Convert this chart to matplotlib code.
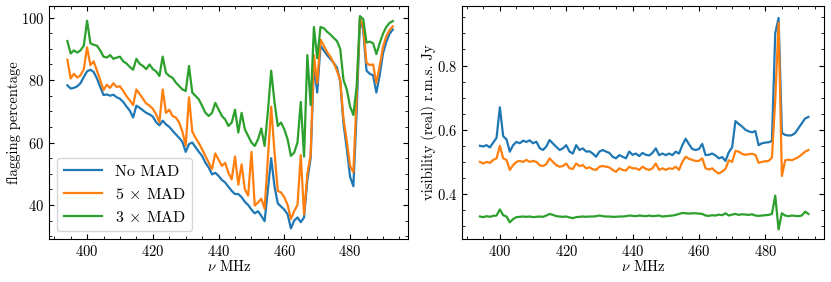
import matplotlib
matplotlib.use("Agg")
import matplotlib.pyplot as plt
import numpy as np
from matplotlib.ticker import MultipleLocator

plt.rcParams["font.family"] = "serif"
plt.rcParams["font.serif"] = ["cmr10"]
plt.rcParams["mathtext.fontset"] = "cm"
plt.rcParams["axes.formatter.use_mathtext"] = True
plt.rcParams["font.size"] = 10.5

# frequency channels (MHz), 1 MHz steps
FREQ = np.arange(394, 494)

# flagging percentage per channel
FLAG_NO_MAD = [
    78.3, 77.3, 77.5, 78.0, 79.0, 81.0, 82.8, 83.3, 82.6, 80.5,
    77.8, 75.2, 75.4, 75.0, 75.3, 74.5, 74.0, 73.0, 71.5, 70.2,
    68.0, 71.8, 71.1, 70.3, 69.5, 69.0, 68.3, 66.5, 65.5, 67.0,
    65.8, 65.0, 63.8, 62.6, 61.5, 60.2, 57.0, 59.5, 60.0, 58.5,
    57.0, 55.7, 53.5, 52.0, 49.8, 50.3, 49.3, 48.0, 47.2, 45.8,
    44.5, 43.5, 43.5, 42.5, 41.0, 40.0, 38.5, 37.3, 38.0, 36.5,
    34.8, 45.0, 55.0, 46.0, 40.5, 39.5, 38.5, 37.0, 32.5, 35.0,
    36.0, 34.5, 36.0, 48.0, 55.0, 85.0, 76.0, 91.0, 89.5, 88.0,
    86.8, 85.5, 84.0, 79.5, 66.0, 58.0, 49.0, 46.0, 70.0, 99.5,
    96.0, 83.0, 82.0, 81.5, 76.0, 81.5, 88.5, 92.2, 94.8, 96.2,
]
FLAG_5_MAD = [
    86.5, 80.5, 82.0, 80.8, 81.5, 83.5, 90.5, 84.8, 86.0, 83.0,
    80.0, 76.8, 78.5, 77.5, 79.0, 77.8, 78.0, 76.5, 74.8, 73.5,
    72.0, 77.0, 75.5, 74.0, 72.5, 71.8, 70.8, 69.0, 66.5, 77.0,
    69.5, 70.5, 68.5, 68.0, 66.4, 63.5, 59.0, 74.5, 63.5, 61.5,
    59.8, 57.8, 55.7, 53.5, 51.5, 56.5, 54.5, 52.5, 53.5, 50.3,
    48.2, 55.5, 46.5, 53.0, 45.0, 43.0, 57.0, 39.8, 40.8, 42.0,
    38.8, 55.0, 71.5, 57.0, 44.5, 44.0, 42.5, 40.0, 35.5, 38.0,
    40.0, 56.0, 37.0, 50.0, 56.0, 88.0, 79.0, 93.0, 91.0, 89.0,
    87.5, 85.5, 83.0, 80.0, 67.5, 60.5, 52.5, 50.5, 75.0, 100.0,
    97.0, 85.5, 84.8, 85.0, 79.0, 84.5, 90.5, 94.0, 96.0, 97.2,
]
FLAG_3_MAD = [
    92.5, 88.5, 89.5, 88.8, 89.5, 91.0, 99.0, 91.8, 91.3, 91.0,
    89.5, 87.5, 87.2, 88.0, 86.8, 87.2, 87.5, 86.0, 85.3, 84.2,
    83.3, 86.8, 85.2, 84.5, 83.5, 85.0, 83.5, 82.8, 81.3, 87.5,
    82.3, 81.3, 80.7, 79.2, 78.1, 77.0, 76.5, 84.5, 76.0, 74.9,
    73.8, 71.7, 69.5, 68.5, 69.5, 72.7, 70.6, 68.5, 67.4, 65.3,
    66.4, 70.5, 63.2, 69.5, 64.2, 62.1, 60.0, 58.9, 61.0, 64.5,
    58.9, 70.0, 83.0, 73.0, 65.3, 66.4, 64.2, 61.0, 55.7, 56.8,
    60.0, 73.0, 55.5, 88.0, 72.0, 97.0, 87.0, 97.0, 96.6, 95.5,
    94.6, 93.5, 92.5, 90.0, 80.0, 77.0, 71.5, 68.8, 78.0, 100.5,
    99.5, 92.0, 92.3, 91.8, 88.3, 91.8, 94.8, 97.0, 98.3, 98.9,
]

# visibility (real) r.m.s. in Jy per channel
RMS_NO_MAD = [
    0.550, 0.548, 0.552, 0.545, 0.560, 0.575, 0.670, 0.580, 0.570, 0.532,
    0.552, 0.562, 0.558, 0.566, 0.562, 0.567, 0.558, 0.563, 0.543, 0.537,
    0.548, 0.568, 0.557, 0.547, 0.537, 0.542, 0.552, 0.532, 0.526, 0.552,
    0.537, 0.542, 0.532, 0.533, 0.526, 0.516, 0.532, 0.537, 0.532, 0.528,
    0.516, 0.511, 0.521, 0.516, 0.511, 0.532, 0.522, 0.526, 0.518, 0.528,
    0.522, 0.520, 0.528, 0.542, 0.521, 0.526, 0.521, 0.526, 0.521, 0.532,
    0.526, 0.552, 0.572, 0.555, 0.540, 0.537, 0.540, 0.556, 0.521, 0.522,
    0.526, 0.520, 0.511, 0.515, 0.503, 0.530, 0.545, 0.627, 0.618, 0.610,
    0.600, 0.595, 0.592, 0.596, 0.552, 0.558, 0.560, 0.561, 0.565, 0.900,
    0.948, 0.590, 0.584, 0.582, 0.583, 0.590, 0.605, 0.620, 0.635, 0.640,
]
RMS_5_MAD = [
    0.500, 0.495, 0.500, 0.497, 0.506, 0.511, 0.550, 0.511, 0.506, 0.475,
    0.490, 0.500, 0.503, 0.500, 0.506, 0.500, 0.503, 0.500, 0.490, 0.487,
    0.493, 0.511, 0.500, 0.490, 0.485, 0.487, 0.495, 0.480, 0.478, 0.495,
    0.487, 0.490, 0.480, 0.483, 0.477, 0.475, 0.485, 0.487, 0.485, 0.483,
    0.475, 0.469, 0.480, 0.475, 0.473, 0.485, 0.480, 0.480, 0.475, 0.485,
    0.478, 0.475, 0.480, 0.495, 0.475, 0.480, 0.475, 0.480, 0.478, 0.485,
    0.475, 0.500, 0.516, 0.510, 0.506, 0.503, 0.503, 0.511, 0.480, 0.476,
    0.480, 0.470, 0.464, 0.470, 0.478, 0.505, 0.500, 0.534, 0.532, 0.525,
    0.522, 0.524, 0.525, 0.522, 0.497, 0.500, 0.502, 0.503, 0.513, 0.694,
    0.933, 0.456, 0.505, 0.507, 0.505, 0.510, 0.515, 0.523, 0.532, 0.537,
]
RMS_3_MAD = [
    0.330, 0.328, 0.331, 0.329, 0.332, 0.333, 0.352, 0.334, 0.330, 0.312,
    0.322, 0.328, 0.329, 0.330, 0.329, 0.330, 0.328, 0.329, 0.330, 0.329,
    0.333, 0.338, 0.335, 0.331, 0.330, 0.329, 0.330, 0.327, 0.325, 0.328,
    0.329, 0.330, 0.329, 0.330, 0.330, 0.331, 0.333, 0.331, 0.330, 0.330,
    0.329, 0.329, 0.330, 0.330, 0.331, 0.333, 0.332, 0.331, 0.333, 0.332,
    0.331, 0.333, 0.331, 0.332, 0.333, 0.330, 0.331, 0.332, 0.333, 0.335,
    0.338, 0.341, 0.340, 0.339, 0.340, 0.340, 0.339, 0.338, 0.333, 0.332,
    0.334, 0.333, 0.336, 0.334, 0.340, 0.333, 0.336, 0.338, 0.335, 0.337,
    0.336, 0.335, 0.337, 0.333, 0.332, 0.333, 0.334, 0.335, 0.338, 0.395,
    0.290, 0.340, 0.333, 0.331, 0.333, 0.332, 0.331, 0.333, 0.345, 0.338,
]

LABELS = ["No MAD", r"5 $\times$ MAD", r"3 $\times$ MAD"]


def style_axis(ax, ymajor, yminor):
    ax.xaxis.set_major_locator(MultipleLocator(20))
    ax.xaxis.set_minor_locator(MultipleLocator(5))
    ax.yaxis.set_major_locator(MultipleLocator(ymajor))
    ax.yaxis.set_minor_locator(MultipleLocator(yminor))
    ax.tick_params(which="both", direction="in", top=True, right=True)
    ax.tick_params(which="major", length=3.5)
    ax.tick_params(which="minor", length=2)
    ax.set_xlabel(r"$\nu$ MHz", labelpad=0)


fig = plt.figure(figsize=(8.31, 2.82), dpi=100)
ax1 = fig.add_axes([0.0593, 0.1525, 0.432, 0.826])
ax2 = fig.add_axes([0.5556, 0.1525, 0.436, 0.826])

for series, lab in zip([FLAG_NO_MAD, FLAG_5_MAD, FLAG_3_MAD], LABELS):
    ax1.plot(FREQ, series, lw=1.6, label=lab)
ax1.set_xlim(388.5, 497.7)
ax1.set_ylim(29.1, 103.7)
ax1.set_ylabel("flagging percentage", labelpad=0)
style_axis(ax1, 20, 5)
ax1.legend(loc="lower left", fontsize=11.5, handlelength=2.4)

for series in [RMS_NO_MAD, RMS_5_MAD, RMS_3_MAD]:
    ax2.plot(FREQ, series, lw=1.6)
ax2.set_xlim(388.5, 497.7)
ax2.set_ylim(0.26, 0.985)
ax2.set_ylabel("visibility (real) r.m.s. Jy", labelpad=0)
style_axis(ax2, 0.2, 0.05)

fig.savefig("out.png", dpi=100)
